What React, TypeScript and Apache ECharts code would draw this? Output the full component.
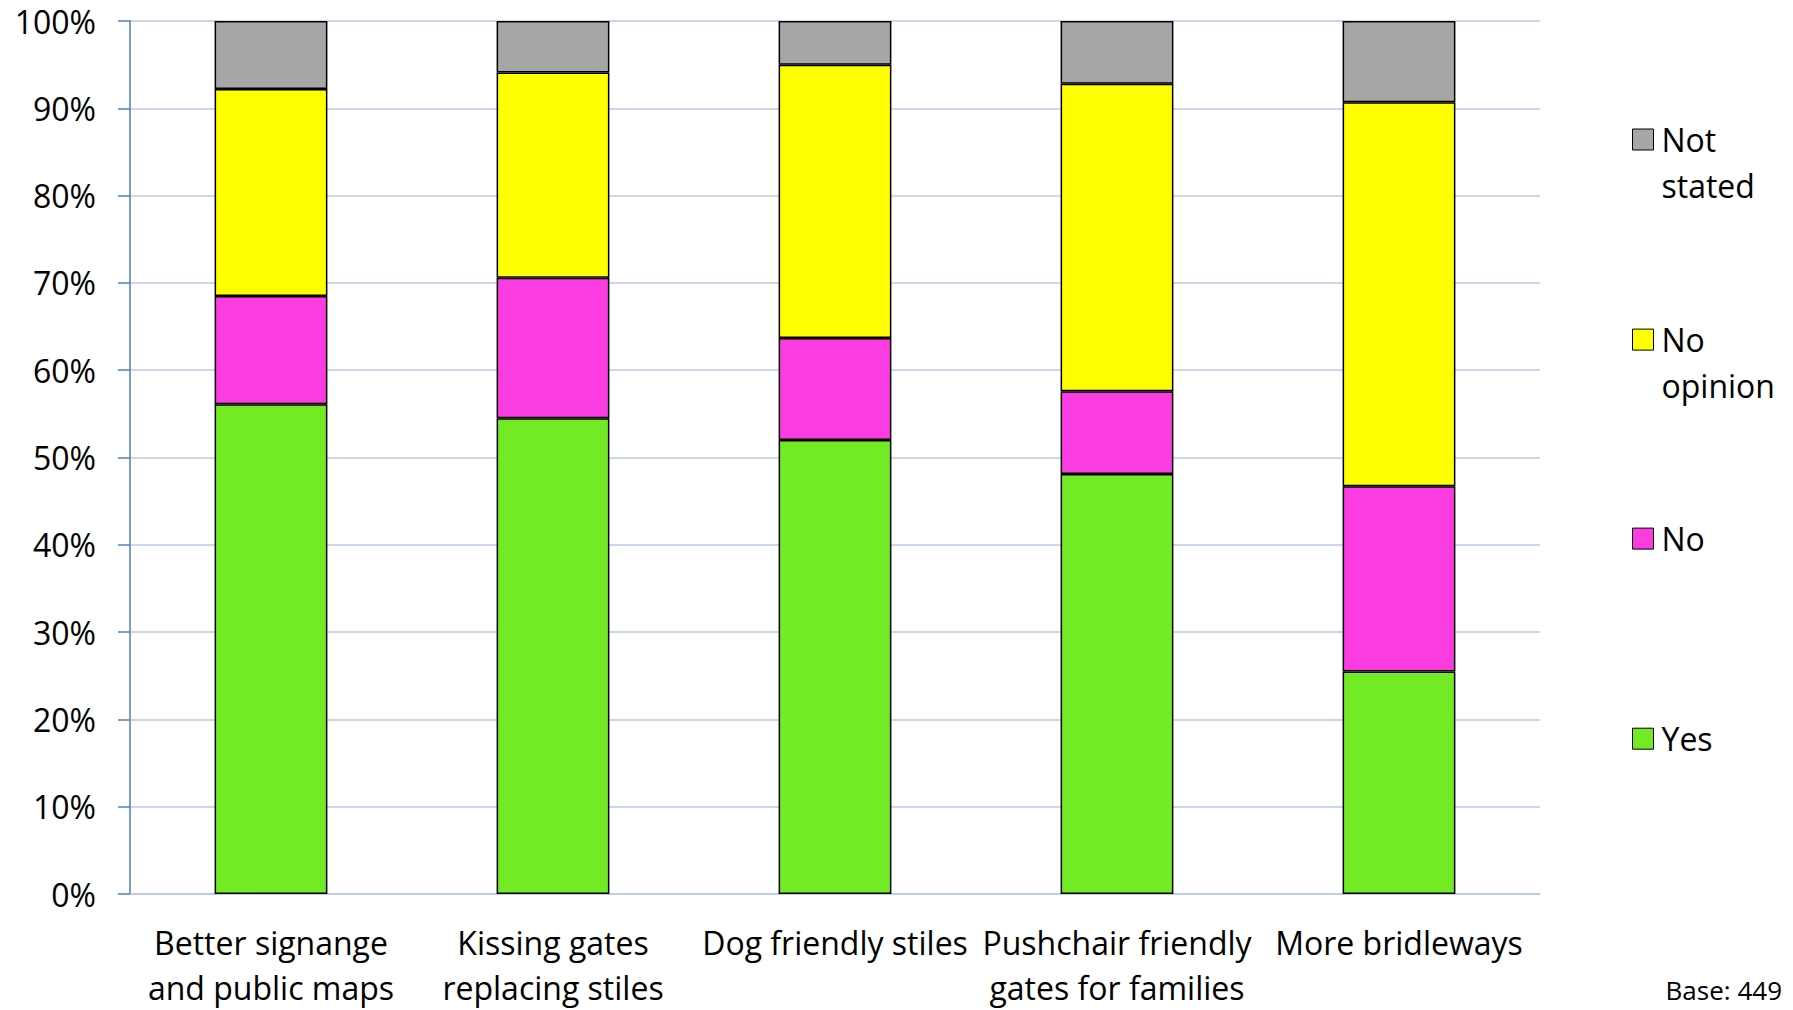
import React, { useEffect, useRef } from "react";
import * as echarts from "echarts";

const categories = [
  "Better signange\nand public maps",
  "Kissing gates\nreplacing stiles",
  "Dog friendly stiles",
  "Pushchair friendly\ngates for families",
  "More bridleways",
];
const yesValues = [56.1, 54.5, 52.0, 48.1, 25.5];
const noValues = [12.4, 16.1, 11.7, 9.5, 21.2];
const noOpinionValues = [23.7, 23.5, 31.3, 35.2, 44.0];
const notStatedValues = [7.8, 5.9, 5.0, 7.2, 9.3];
const yTicks = { min: 0, max: 100, interval: 10 };
const baseNote = "Base: 449";

const FONT = "'Open Sans', 'Noto Sans', sans-serif";

export default function App() {
  const ref = useRef<HTMLDivElement>(null);
  useEffect(() => {
    document.body.style.margin = "0";
    const chart = echarts.init(ref.current!, null, { renderer: "svg" });
    const border = { borderColor: "#000", borderWidth: 1.5 };
    const mk = (name: string, data: number[], color: string) => ({
      name,
      type: "bar",
      stack: "total",
      data,
      barWidth: "40%",
      itemStyle: { color, ...border },
      emphasis: { disabled: true },
    });
    const legendBase = (name: string, top: number, twoLine: boolean) => ({
      data: [name],
      left: 1632,
      top,
      orient: "vertical",
      padding: 0,
      itemWidth: 21,
      itemHeight: 21,
      icon: "rect",
      selectedMode: false,
      itemStyle: { borderColor: "#000", borderWidth: 1 },
      formatter: (n: string) => (twoLine ? "\n" + n.replace(" ", "\n") : n),
      textStyle: {
        fontFamily: FONT,
        fontSize: 32,
        color: "#000",
        lineHeight: 46,
        padding: [0, 0, 0, 3],
      },
    });
    chart.setOption({
      animation: false,
      grid: { left: 130, right: 253, top: 21, bottom: 114, containLabel: false },
      legend: [
        legendBase("Not stated", 70.5, true),
        legendBase("No opinion", 270.6, true),
        legendBase("No", 515.6, false),
        legendBase("Yes", 715.7, false),
      ],
      xAxis: {
        type: "category",
        data: categories,
        axisLine: { show: true, lineStyle: { color: "#B9CAE8", width: 1.5 } },
        axisTick: { show: false },
        axisLabel: {
          interval: 0,
          margin: 26,
          fontFamily: FONT,
          fontSize: 32,
          lineHeight: 45,
          color: "#000",
        },
      },
      yAxis: {
        type: "value",
        min: yTicks.min,
        max: yTicks.max,
        interval: yTicks.interval,
        axisLine: { show: true, lineStyle: { color: "#4F81BD", width: 1.5 } },
        axisTick: { show: true, length: 12, lineStyle: { color: "#4F81BD", width: 1.5 } },
        splitLine: { show: true, lineStyle: { color: "#B9CAE8", width: 1.5 } },
        axisLabel: {
          formatter: "{value}%",
          margin: 34,
          fontFamily: FONT,
          fontSize: 32,
          color: "#000",
        },
      },
      series: [
        mk("Yes", yesValues, "#72EA24"),
        mk("No", noValues, "#FA3CE0"),
        mk("No opinion", noOpinionValues, "#FFFF00"),
        mk("Not stated", notStatedValues, "#A6A6A6"),
      ],
      graphic: [
        {
          type: "text",
          x: 1782,
          y: 1003,
          style: {
            text: baseNote,
            fontFamily: FONT,
            fontSize: 26,
            fill: "#000",
            align: "right",
            verticalAlign: "bottom",
          },
        },
      ],
    });
    return () => chart.dispose();
  }, []);
  return <div ref={ref} style={{ width: 1793, height: 1010 }} />;
}
